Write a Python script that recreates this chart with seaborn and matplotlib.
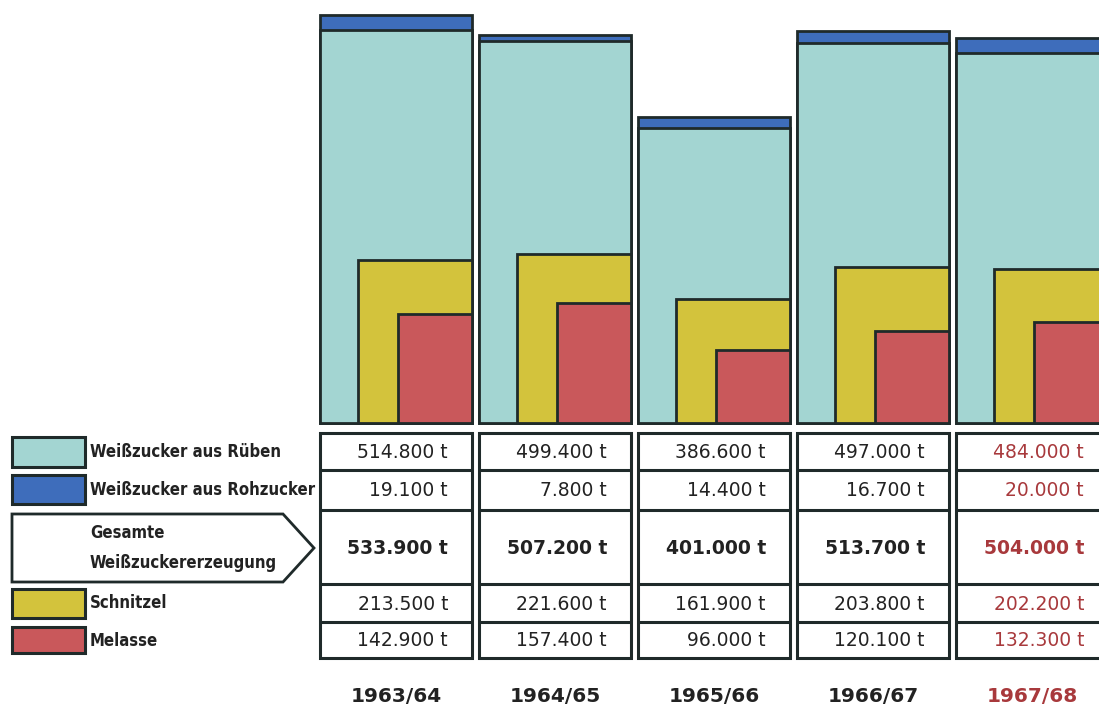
import matplotlib
matplotlib.use("Agg")
import matplotlib.pyplot as plt
import seaborn as sns
import pandas as pd
from matplotlib.patches import Rectangle, Polygon

# ---------------- data (thousand tonnes) ----------------
years = ["1963/64", "1964/65", "1965/66", "1966/67", "1967/68"]
ruebe = [514.8, 499.4, 386.6, 497.0, 484.0]        # Weißzucker aus Rüben
rohzucker = [19.1, 7.8, 14.4, 16.7, 20.0]          # Weißzucker aus Rohzucker
gesamt = [533.9, 507.2, 401.0, 513.7, 504.0]       # Gesamte Weißzuckererzeugung
schnitzel = [213.5, 221.6, 161.9, 203.8, 202.2]    # Schnitzel
melasse = [142.9, 157.4, 96.0, 120.1, 132.3]       # Melasse
legend_labels = ["Weißzucker aus Rüben", "Weißzucker aus Rohzucker",
                 "Gesamte\nWeißzuckererzeugung", "Schnitzel", "Melasse"]

# ---------------- style ----------------
TEAL = "#a3d5d2"
BLUE = "#3e6dbb"
YELLOW = "#d3c33c"
RED = "#c9585b"
EDGE = "#1f2a2a"
DARK = "#222222"
REDTXT = "#a8393c"

sns.set_theme(style="white")
plt.rcParams["font.family"] = ["DejaVu Sans"]

W, H = 1099, 708
fig = plt.figure(figsize=(W / 100, H / 100), dpi=100)
fig.patch.set_facecolor("white")

SP = 159.0          # pixels per category step
X0 = 320.0          # pixel of first bar's left edge
BW = 152 / SP       # bar width in category units
SCALE = 0.764       # pixels per thousand tonnes
BASE = 423          # baseline pixel (from top)

ax_left, ax_right = 310, W
xlim = ((ax_left - X0) / SP, (ax_right - X0) / SP)

ax = fig.add_axes([ax_left / W, (H - BASE) / H, (ax_right - ax_left) / W, BASE / H])
idx = list(range(len(years)))
df = pd.DataFrame({"i": idx, "ruebe": ruebe, "roh": rohzucker, "ges": gesamt,
                   "sch": schnitzel, "mel": melasse})

lw = 2.0
# total bar (blue shows on top), then beet sugar (teal) over it
df["xc"] = df["i"] + BW / 2
sns.barplot(data=df, x="xc", y="ges", native_scale=True, width=BW, color=BLUE,
            saturation=1, edgecolor=EDGE, linewidth=lw, errorbar=None, ax=ax)
sns.barplot(data=df, x="xc", y="ruebe", native_scale=True, width=BW, color=TEAL,
            saturation=1, edgecolor=EDGE, linewidth=lw, errorbar=None, ax=ax)
# Schnitzel (yellow) – right-aligned inside
yl = 38 / SP
df["xy"] = df["i"] + (yl + BW) / 2
sns.barplot(data=df, x="xy", y="sch", native_scale=True, width=BW - yl, color=YELLOW,
            saturation=1, edgecolor=EDGE, linewidth=lw, errorbar=None, ax=ax)
# Melasse (red)
rl = 78 / SP
df["xr"] = df["i"] + (rl + BW) / 2
sns.barplot(data=df, x="xr", y="mel", native_scale=True, width=BW - rl, color=RED,
            saturation=1, edgecolor=EDGE, linewidth=lw, errorbar=None, ax=ax)
for p in ax.patches:
    p.set_clip_on(False)
ax.set_xlim(*xlim)
ax.set_ylim(0, BASE / SCALE)
ax.set_axis_off()

# ---------------- table ----------------
TOP_PX = 428
axt = fig.add_axes([ax_left / W, 0, (ax_right - ax_left) / W, (H - TOP_PX) / H])
axt.set_xlim(*xlim)
axt.set_ylim(H, TOP_PX)
axt.set_axis_off()

row_edges = [433, 470, 510, 584, 622, 658]
rows = [ruebe, rohzucker, gesamt, schnitzel, melasse]
for i, yr in enumerate(years):
    tc = REDTXT if i == len(years) - 1 else DARK
    axt.add_patch(Rectangle((i, row_edges[0]), BW, row_edges[-1] - row_edges[0],
                            facecolor="white", edgecolor=EDGE, linewidth=2.2, clip_on=False))
    for e in row_edges[1:-1]:
        axt.plot([i, i + BW], [e, e], color=EDGE, linewidth=2.2, clip_on=False,
                 solid_capstyle="butt")
    for r, vals in enumerate(rows):
        yc = (row_edges[r] + row_edges[r + 1]) / 2 + 1
        axt.text(i + 128 / SP, yc, f"{vals[i]:.3f} t", ha="right", va="center",
                 fontsize=13.5, color=tc, fontweight="bold" if r == 2 else "normal",
                 clip_on=False)
    axt.text(i + BW / 2, 697, yr, ha="center", va="center", fontsize=14.5,
             fontweight="bold", color=tc, clip_on=False)

# ---------------- legend ----------------
axl = fig.add_axes([0, 0, 1, 1], zorder=-1)
axl.set_xlim(0, W)
axl.set_ylim(H, 0)
axl.set_axis_off()
sw = [(437, 467, TEAL), (475, 504, BLUE), None, (589, 618, YELLOW), (627, 653, RED)]
ty = [452, 490, None, 603, 641]
for k, s in enumerate(sw):
    if s is None:
        continue
    y0, y1, c = s
    axl.add_patch(Rectangle((12, y0), 73, y1 - y0, facecolor=c, edgecolor=EDGE, linewidth=2.2))
    axl.text(90, ty[k], legend_labels[k], ha="left", va="center", fontsize=12,
             fontweight="bold", fontstretch="condensed", color=DARK)
axl.add_patch(Polygon([(12, 514), (283, 514), (314, 548), (283, 582), (12, 582)],
                      closed=True, facecolor="white", edgecolor=EDGE, linewidth=2.0))
g1, g2 = legend_labels[2].split("\n")
axl.text(90, 533, g1, ha="left", va="center", fontsize=12, fontweight="bold",
         fontstretch="condensed", color=DARK)
axl.text(90, 563, g2, ha="left", va="center", fontsize=12, fontweight="bold",
         fontstretch="condensed", color=DARK)

fig.savefig("out.png", dpi=100, facecolor="white")
